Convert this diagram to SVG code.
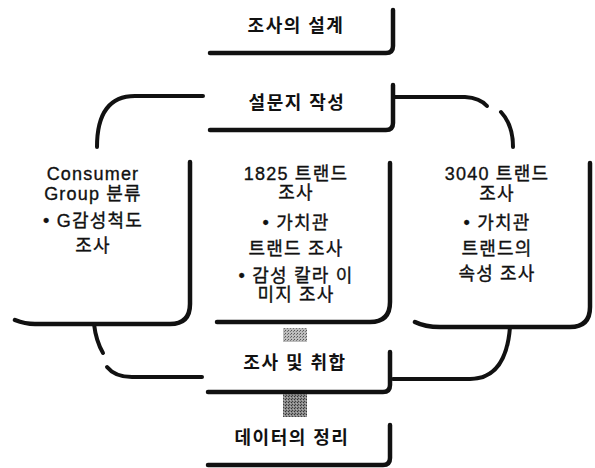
<svg xmlns="http://www.w3.org/2000/svg" width="595" height="468" viewBox="0 0 595 468">
<style>
.b{fill:none;stroke:#111;stroke-width:4.5;stroke-linecap:round;stroke-linejoin:round}
.c{fill:none;stroke:#111;stroke-width:4;stroke-linecap:round}
.h{font-family:"Liberation Sans","Noto Sans CJK KR",sans-serif;font-size:18px;font-weight:bold;letter-spacing:1.5px;text-anchor:middle;fill:#111}
.t{font-family:"Liberation Sans","Noto Sans CJK KR",sans-serif;font-size:18px;font-weight:normal;letter-spacing:1.2px;text-anchor:middle;fill:#111;stroke:#111;stroke-width:0.35}
</style>
<defs>
<pattern id="lg" width="3" height="3" patternUnits="userSpaceOnUse"><rect width="3" height="3" fill="#bdbdbd"/><rect width="1" height="1" fill="#555"/><rect x="2" y="1" width="1" height="1" fill="#777"/></pattern>
<pattern id="dg" width="3" height="3" patternUnits="userSpaceOnUse"><rect width="3" height="3" fill="#8a8a8a"/><rect width="1" height="1" fill="#333"/><rect x="1" y="2" width="1" height="1" fill="#444"/><rect x="2" y="1" width="1" height="1" fill="#b0b0b0"/></pattern>
</defs>
<rect width="595" height="468" fill="#fff"/>
<g id="connectors">
<path class="c" d="M203,96 H135 Q97,96 97,147"/>
<path class="c" d="M94,324 Q96,341 103,353"/>
<path class="c" d="M107,367 Q115,377 132,377 H202"/>
<path class="c" d="M395,97 H465 Q480,98 487,106"/>
<path class="c" d="M501,112 Q513,125 513,147"/>
<path class="c" d="M510,327 Q506,379 470,379 H393"/>
<rect x="283" y="328" width="24" height="14" fill="url(#lg)"/>
<rect x="283" y="394" width="24" height="23" fill="url(#dg)"/>
</g>
<g id="n1">
<path class="b" d="M210,53 H386 Q393,53 393,46 V10"/>
<text class="h" x="296" y="32">조사의 설계</text>
</g>
<g id="n2">
<path class="b" d="M210,130 H386 Q393,130 393,123 V85"/>
<text class="h" x="297" y="109">설문지 작성</text>
</g>
<g id="n3">
<path class="b" d="M15,320 Q25,324 35,324 H170 Q190,324 190,304 V162"/>
<text class="t" x="93" y="180">Consumer</text>
<text class="t" x="93" y="200">Group 분류</text>
<text class="t" x="93" y="227">• G감성척도</text>
<text class="t" x="93" y="252">조사</text>
</g>
<g id="n4">
<path class="b" d="M217,322 H370 Q390,322 390,302 V163"/>
<text class="t" x="296" y="180">1825 트랜드</text>
<text class="t" x="296" y="199">조사</text>
<text class="t" x="296" y="229">• 가치관</text>
<text class="t" x="296" y="255">트랜드 조사</text>
<text class="t" x="296" y="282">• 감성 칼라 이</text>
<text class="t" x="296" y="301">미지 조사</text>
</g>
<g id="n5">
<path class="b" d="M415,322 Q425,327 440,327 H570 Q590,327 590,307 V163"/>
<text class="t" x="497" y="180">3040 트랜드</text>
<text class="t" x="497" y="200">조사</text>
<text class="t" x="497" y="229">• 가치관</text>
<text class="t" x="497" y="255">트랜드의</text>
<text class="t" x="497" y="280">속성 조사</text>
</g>
<g id="n6">
<path class="b" d="M208,392 H383 Q390,392 390,385 V352"/>
<text class="h" x="295" y="369">조사 및 취합</text>
</g>
<g id="n7">
<path class="b" d="M208,465 H383 Q390,465 390,458 V425"/>
<text class="h" x="292" y="444">데이터의 정리</text>
</g>
</svg>
